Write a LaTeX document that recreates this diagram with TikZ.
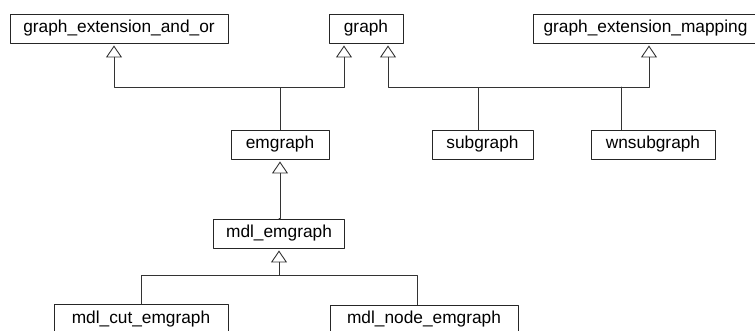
\documentclass[tikz,border=0pt]{standalone}
\usepackage{fontspec}
\setmainfont{Liberation Sans}
\usepackage{tikz}
\usetikzlibrary{arrows.meta,calc}
\tikzset{
  cls/.style={draw=black!85,line width=0.9pt,inner sep=0pt,minimum height=29pt,font=\fontsize{17.3}{20}\selectfont},
  inh/.style={draw=black!80,line width=0.9pt,-{Triangle[open,width=16pt,length=12pt]},shorten >=2pt}
}
\begin{document}
\begin{tikzpicture}[line cap=round,line join=round,x=1pt,y=-1pt]
                \useasboundingbox (0,0) rectangle (755,330);
                \node[cls,minimum width=218pt] (gextandor) at (119,28.5) {graph\_extension\_and\_or};
                \node[cls,minimum width=74pt] (graph) at (366,28.5) {graph};
                \node[cls,minimum width=225pt] (gextmap) at (645.5,28.5) {graph\_extension\_mapping};
                \node[cls,minimum width=98pt] (emgraph) at (280,144.5) {emgraph};
                \node[cls,minimum width=101pt] (subgraph) at (482.5,144.5) {subgraph};
                \node[cls,minimum width=124pt] (wnsubgraph) at (653,144.5) {wnsubgraph};
                \node[cls,minimum width=131pt] (mdlem) at (279,233.5) {mdl\_emgraph};
                \node[cls,minimum width=174pt] (mdlcut) at (141,319) {mdl\_cut\_emgraph};
                \node[cls,minimum width=188pt] (mdlnode) at (424,319.5) {mdl\_node\_emgraph};
                % junctions
                \coordinate (jtop) at (0,87);
                \coordinate (jbot) at (0,275);
                % emgraph -> graph_extension_and_or, graph
                \draw [inh] (emgraph.north) -- (emgraph.north |- jtop) -| ([xshift=-5pt]gextandor.south);
                \draw [inh] (emgraph.north |- jtop) -| ([xshift=-22pt]graph.south);
                % subgraph, wnsubgraph -> graph, graph_extension_mapping
                \draw [inh] ([xshift=-4pt]subgraph.north) -- ([xshift=-4pt]subgraph.north |- jtop) -| ([xshift=22pt]graph.south);
                \draw [inh] ([xshift=-4pt]subgraph.north |- jtop) -| ([xshift=3.5pt]gextmap.south);
                \draw [draw=black!80,line width=0.9pt] ([xshift=-32pt]wnsubgraph.north) -- ([xshift=-32pt]wnsubgraph.north |- jtop);
                % mdl_emgraph -> emgraph
                \draw [inh] (mdlem.north) -- (mdlem.north -| emgraph.south) -- (emgraph.south);
                % mdl_cut_emgraph, mdl_node_emgraph -> mdl_emgraph
                \draw [inh] (mdlcut.north) -- (mdlcut.north |- jbot) -| (mdlem.south);
                \draw [draw=black!80,line width=0.9pt] ([xshift=-7pt]mdlnode.north) -- ([xshift=-7pt]mdlnode.north |- jbot) -- (mdlem.south |- jbot);
\end{tikzpicture}
\end{document}
